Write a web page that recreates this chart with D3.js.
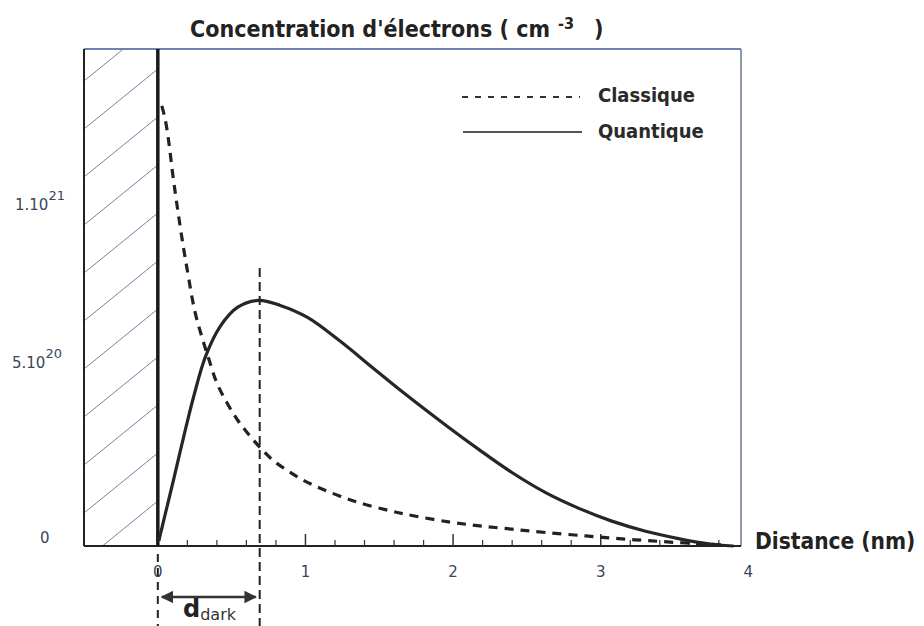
<!DOCTYPE html>
<html lang="fr">
<head>
<meta charset="utf-8">
<script src="https://d3js.org/d3.v7.min.js"></script>
<style>
  body { margin: 0; background: #fff; }
  .cond { font-family: "DejaVu Sans Condensed", "Liberation Sans Narrow", "DejaVu Sans", sans-serif; font-stretch: condensed; font-weight: bold; }
  .tick-lbl { font-family: "DejaVu Sans", Verdana, sans-serif; font-size: 15px; fill: #3c4658; }
</style>
</head>
<body>
<div id="chart"></div>
<script>
// distance (nm) / concentration (unit 1e20 cm^-3)
var classiqueX = [0.027,0.05,0.075,0.10,0.125,0.15,0.175,0.20,0.25,0.30,0.35,0.40,0.47,0.54,0.61,0.695,0.78,0.88,0.985,1.10,1.23,1.37,1.57,1.73,1.98,2.18,2.40,2.63,2.90,3.12,3.35,3.57,3.75,3.85];
var classiqueY = [13.1,12.7,12.0,11.1,10.3,9.55,8.85,8.2,7.0,6.2,5.5,4.85,4.25,3.75,3.35,2.92,2.55,2.24,1.96,1.72,1.49,1.28,1.05,0.90,0.71,0.60,0.50,0.40,0.30,0.22,0.15,0.09,0.05,0.02];

var quantiqueX = [0.007,0.02,0.108,0.175,0.243,0.324,0.425,0.539,0.681,0.829,1.011,1.234,1.457,1.639,1.955,2.178,2.401,2.630,2.852,3.075,3.304,3.527,3.661,3.80,3.90];
var quantiqueY = [0.15,0.4,2.0,3.25,4.45,5.65,6.55,7.1,7.31,7.16,6.81,6.10,5.30,4.65,3.58,2.86,2.18,1.58,1.12,0.74,0.44,0.22,0.11,0.03,0];

var xTicks = [0, 1, 2, 3, 4];
var xMinorTicks = d3.range(1, 20).map(function(i) { return i * 0.2; }).filter(function(v) { return Math.abs(v - Math.round(v)) > 0.01; });
var yTicks = [0, 5, 10];
var yTickMant = ["0", "5.10", "1.10"];
var yTickExp = ["", "20", "21"];
var dDark = 0.69;
var legendNames = ["Classique", "Quantique"];

var W = 924, H = 626;
var svg = d3.select("#chart").append("svg")
    .attr("width", W).attr("height", H);

var x = d3.scaleLinear().domain([-0.5, 3.95]).range([84, 741]);
var y = d3.scaleLinear().domain([0, 10]).range([546, 210]);
var yTop = 49;

// hatched zone (metal) left of x=0
svg.append("clipPath").attr("id", "hclip")
  .append("rect")
    .attr("x", x(-0.5)).attr("y", yTop)
    .attr("width", x(0) - x(-0.5)).attr("height", y(0) - yTop);

var hatch = svg.append("g").attr("clip-path", "url(#hclip)");
for (var k = -2; k < 14; k++) {
  var y0 = yTop + 20 + k * 48;
  hatch.append("line")
    .attr("x1", x(-0.5)).attr("y1", y0 + 60)
    .attr("x2", x(0)).attr("y2", y0)
    .attr("stroke", "#74839c").attr("stroke-width", 1);
}

// frame
svg.append("line").attr("x1", x(-0.5)).attr("y1", yTop).attr("x2", x(3.95)).attr("y2", yTop)
  .attr("stroke", "#6f82b0").attr("stroke-width", 2);
svg.append("line").attr("x1", x(3.95)).attr("y1", yTop).attr("x2", x(3.95)).attr("y2", y(0))
  .attr("stroke", "#6c7890").attr("stroke-width", 1.5);
svg.append("line").attr("x1", x(-0.5)).attr("y1", yTop).attr("x2", x(-0.5)).attr("y2", y(0))
  .attr("stroke", "#222").attr("stroke-width", 2);

// x axis: line + ticks pointing inward
svg.append("line").attr("x1", x(-0.5)).attr("y1", y(0)).attr("x2", x(3.95)).attr("y2", y(0))
  .attr("stroke", "#222").attr("stroke-width", 2);
svg.selectAll(".minor").data(xMinorTicks).enter().append("line")
  .attr("x1", function(d) { return x(d); }).attr("x2", function(d) { return x(d); })
  .attr("y1", y(0)).attr("y2", y(0) - 6)
  .attr("stroke", "#333").attr("stroke-width", 1.2);
svg.selectAll(".major").data(xTicks.filter(function(d) { return d > 0 && d < 4; })).enter().append("line")
  .attr("x1", function(d) { return x(d); }).attr("x2", function(d) { return x(d); })
  .attr("y1", y(0)).attr("y2", y(0) - 12)
  .attr("stroke", "#333").attr("stroke-width", 1.5);
svg.selectAll(".xlbl").data(xTicks).enter().append("text")
  .attr("class", "tick-lbl")
  .attr("x", function(d) { return x(d); }).attr("y", y(0) + 31)
  .attr("text-anchor", "middle")
  .text(function(d) { return d; });

// y labels (hand placed in the original, so small shifts)
var yLblShift = [-3, -10, 0];
yTicks.forEach(function(v, i) {
  var t = svg.append("text").attr("class", "tick-lbl")
    .attr("x", i === 0 ? 40 : (i === 1 ? 12 : 15)).attr("y", y(v) + yLblShift[i]);
  t.append("tspan").text(yTickMant[i]);
  if (yTickExp[i]) t.append("tspan").attr("dy", -10).attr("font-size", 13).text(yTickExp[i]);
});

// wall at x = 0
svg.append("line").attr("x1", x(0)).attr("y1", yTop).attr("x2", x(0)).attr("y2", y(0))
  .attr("stroke", "#1a1a1a").attr("stroke-width", 3.5);

var line = d3.line().curve(d3.curveCatmullRom.alpha(0.5))
  .x(function(d) { return x(d[0]); }).y(function(d) { return y(d[1]); });

svg.append("path")
  .datum(d3.zip(quantiqueX, quantiqueY))
  .attr("d", line).attr("fill", "none")
  .attr("stroke", "#262626").attr("stroke-width", 3.2);

svg.append("path")
  .datum(d3.zip(classiqueX, classiqueY))
  .attr("d", line).attr("fill", "none")
  .attr("stroke", "#222").attr("stroke-width", 3.2)
  .attr("stroke-dasharray", "9,7");

// d_dark marker
svg.append("line").attr("x1", x(dDark)).attr("x2", x(dDark))
  .attr("y1", 268).attr("y2", H)
  .attr("stroke", "#222").attr("stroke-width", 2).attr("stroke-dasharray", "9,5");
svg.append("line").attr("x1", x(0)).attr("x2", x(0))
  .attr("y1", y(0) + 8).attr("y2", H)
  .attr("stroke", "#222").attr("stroke-width", 2).attr("stroke-dasharray", "8,6");

var defs = svg.append("defs");
defs.append("marker").attr("id", "ah").attr("viewBox", "0 0 10 10")
  .attr("refX", 9).attr("refY", 5).attr("markerWidth", 5).attr("markerHeight", 5)
  .attr("orient", "auto-start-reverse")
  .append("path").attr("d", "M0,0L10,5L0,10z").attr("fill", "#333");
svg.append("line")
  .attr("x1", x(0) + 4).attr("x2", x(dDark) - 4)
  .attr("y1", 597).attr("y2", 597)
  .attr("stroke", "#333").attr("stroke-width", 2.5)
  .attr("marker-start", "url(#ah)").attr("marker-end", "url(#ah)");
var dl = svg.append("text").attr("x", 183).attr("y", 617)
  .attr("font-family", "'DejaVu Sans', sans-serif").attr("fill", "#222");
dl.append("tspan").attr("font-size", 24).attr("font-weight", "bold").text("d");
dl.append("tspan").attr("font-size", 16).attr("dy", 3).attr("fill", "#333").text("dark");

// titles
var tt = svg.append("text").attr("class", "cond")
  .attr("x", 190).attr("y", 37).attr("font-size", 23).attr("fill", "#222");
tt.append("tspan").text("Concentration d'électrons ( cm");
tt.append("tspan").attr("dx", 8).attr("dy", -8).attr("font-size", 16).text("-3");
tt.append("tspan").attr("dx", 20).attr("dy", 8).text(")");

svg.append("text").attr("class", "cond")
  .attr("x", 755).attr("y", 549).attr("font-size", 22.5).attr("fill", "#222")
  .text("Distance (nm)");

// legend
var lg = svg.append("g");
lg.append("line").attr("x1", 462).attr("x2", 580).attr("y1", 97).attr("y2", 97)
  .attr("stroke", "#333").attr("stroke-width", 2).attr("stroke-dasharray", "6,7");
lg.append("line").attr("x1", 463).attr("x2", 582).attr("y1", 132).attr("y2", 132)
  .attr("stroke", "#555").attr("stroke-width", 2);
lg.selectAll("text").data(legendNames).enter().append("text")
  .attr("class", "cond").attr("font-size", 20).attr("fill", "#2a2a2a")
  .attr("x", 598).attr("y", function(d, i) { return 102 + i * 36; })
  .text(function(d) { return d; });
</script>
</body>
</html>
